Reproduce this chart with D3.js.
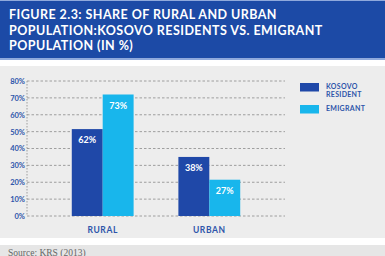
<!DOCTYPE html>
<html>
<head>
<meta charset="utf-8">
<script src="https://cdn.jsdelivr.net/npm/d3@7"></script>
<style>
  body { margin: 0; background: #fff; }
  svg { display: block; font-family: Lato, "Open Sans", sans-serif; }
</style>
</head>
<body>
<svg id="drawing_region"></svg>
<script>
const categories = ['RURAL', 'URBAN'];
const seriesNames = ['KOSOVO RESIDENT', 'EMIGRANT'];
// bar heights as drawn in the figure, and the printed labels
const residentBars = [51.5, 35];
const emigrantBars = [72, 21.5];
const residentLabels = ['62%', '38%'];
const emigrantLabels = ['73%', '27%'];
const yTicks = [0, 10, 20, 30, 40, 50, 60, 70, 80];
const titleLines = ['FIGURE 2.3: SHARE OF RURAL AND URBAN', 'POPULATION:KOSOVO RESIDENTS VS. EMIGRANT', 'POPULATION (IN %)'];

const W = 385, H = 256;
const colors = ['#1f48a8', '#18b6ec'];
const textBlue = '#2d55aa';

const svg = d3.select('#drawing_region').attr('width', W).attr('height', H);

// title band
svg.append('rect').attr('x', 0).attr('y', 0).attr('width', W).attr('height', 60).attr('fill', '#8fa9dc');
svg.append('rect').attr('x', 0).attr('y', 1).attr('width', W).attr('height', 57).attr('fill', '#1c4aa6');
svg.append('text')
    .attr('fill', '#fff')
    .style('font-size', '12.5px')
    .style('font-weight', 700)
    .style('letter-spacing', '0.45px')
    .selectAll('tspan')
    .data(titleLines)
    .join('tspan')
    .attr('x', 9)
    .attr('y', (d, i) => 19 + i * 15.5)
    .text(d => d);

// chart panel
svg.append('rect').attr('x', 0).attr('y', 66).attr('width', W).attr('height', 172).attr('fill', '#ededed');
svg.append('rect').attr('x', 0).attr('y', 245).attr('width', W).attr('height', 11).attr('fill', '#e6e6e6');

const margin = {left: 27, top: 81};
const y0 = 216;

const yscale = d3.scaleLinear().domain([0, 80]).range([y0, margin.top]);
const xscale = d3.scaleBand().domain(categories).range([margin.left, 285]).paddingInner(0.42).paddingOuter(0.42);
const xsub = d3.scaleBand().domain([0, 1]).range([0, xscale.bandwidth()]);

const chart = svg.append('g');

// gridlines
chart.selectAll('.grid')
    .data(yTicks)
    .join('line')
    .attr('x1', margin.left).attr('x2', 285)
    .attr('y1', d => yscale(d)).attr('y2', d => yscale(d))
    .attr('stroke', '#8a8a8a').attr('stroke-width', 0.8).attr('stroke-dasharray', '2.5,2');

chart.append('line')
    .attr('x1', margin.left).attr('x2', margin.left)
    .attr('y1', yscale(80)).attr('y2', y0)
    .attr('stroke', '#8a8a8a').attr('stroke-width', 0.8).attr('stroke-dasharray', '1.5,1.5');

const yaxis = d3.axisLeft(yscale).tickValues(yTicks).tickFormat(d => d + '%').tickSize(0).tickPadding(2);
const yg = chart.append('g').attr('transform', `translate(${margin.left},0)`).call(yaxis);
yg.select('.domain').remove();
yg.selectAll('text').attr('fill', textBlue).style('font-size', '7.5px').style('font-family', 'Lato, sans-serif').style('font-weight', 700);

// bars
const series = [residentBars, emigrantBars];
const labels = [residentLabels, emigrantLabels];
series.forEach((vals, s) => {
    chart.selectAll('.bar' + s)
        .data(vals)
        .join('rect')
        .attr('x', (d, i) => xscale(categories[i]) + xsub(s))
        .attr('y', d => yscale(d))
        .attr('width', xsub.bandwidth())
        .attr('height', d => y0 - yscale(d))
        .attr('fill', colors[s]);
    chart.selectAll('.lab' + s)
        .data(vals)
        .join('text')
        .attr('x', (d, i) => xscale(categories[i]) + xsub(s) + xsub.bandwidth() / 2)
        .attr('y', d => yscale(d) + 14)
        .attr('text-anchor', 'middle')
        .attr('fill', '#fff')
        .style('font-size', '9px')
        .style('font-weight', 700)
        .text((d, i) => labels[s][i]);
});

// x axis labels
chart.selectAll('.cat')
    .data(categories)
    .join('text')
    .attr('x', d => xscale(d) + xscale.bandwidth() / 2)
    .attr('y', 233)
    .attr('text-anchor', 'middle')
    .attr('fill', textBlue)
    .style('font-size', '8.5px')
    .style('font-weight', 700)
    .style('letter-spacing', '0.6px')
    .text(d => d);

// legend
const legend = svg.append('g').attr('transform', 'translate(300,83)');
const legendText = [['KOSOVO', 'RESIDENT'], ['EMIGRANT']];
seriesNames.forEach((name, i) => {
    legend.append('rect')
        .attr('x', 0).attr('y', i * 22)
        .attr('width', 19).attr('height', 8.5)
        .attr('fill', colors[i]);
    legend.append('text')
        .attr('fill', textBlue)
        .style('font-size', '7px')
        .style('font-weight', 700)
        .style('letter-spacing', '0.3px')
        .selectAll('tspan')
        .data(legendText[i])
        .join('tspan')
        .attr('x', 26)
        .attr('y', (d, j) => i * 22 + 6 + j * 8)
        .text(d => d);
});

// source
svg.append('text')
    .attr('x', 8).attr('y', 255.5)
    .attr('fill', '#666')
    .style('font-family', '"Liberation Serif", serif')
    .style('font-size', '9.5px')
    .text('Source: KRS (2013)');
</script>
</body>
</html>
